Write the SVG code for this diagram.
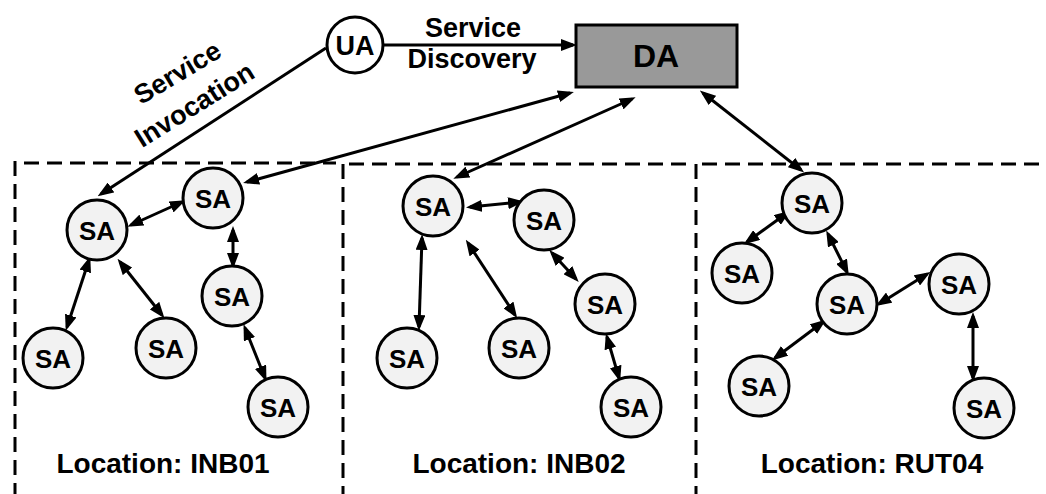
<svg xmlns="http://www.w3.org/2000/svg" width="1046" height="494" viewBox="0 0 1046 494">
  <style>
    .sa circle { fill: #f2f2f2; stroke: #000; stroke-width: 3; }
    .lbl { font-family: "Liberation Sans", Arial, sans-serif; font-weight: bold; fill: #000; text-anchor: middle; }
    .sa text { font-size: 26px; }
    .edge { stroke: #000; stroke-width: 3; fill: none; }
    .bi { marker-start: url(#head); marker-end: url(#head); }
    .one { marker-end: url(#head); }
    .zone { stroke: #000; stroke-width: 3; stroke-dasharray: 15 8; fill: none; }
  </style>
  <defs>
    <marker id="head" viewBox="0 0 16 12" markerUnits="userSpaceOnUse" markerWidth="16" markerHeight="12" refX="12" refY="6" orient="auto-start-reverse">
      <path d="M0,0 L16,6 L0,12 z" fill="#000"/>
    </marker>
  </defs>
  <rect width="1046" height="494" fill="#fff"/>

  <!-- location zones -->
  <g id="zones">
    <line class="zone" x1="24" y1="163" x2="336" y2="163"/>
    <line class="zone" x1="349" y1="164" x2="688" y2="164"/>
    <line class="zone" x1="702" y1="164" x2="1046" y2="164"/>
    <line class="zone" x1="15" y1="161" x2="15" y2="494"/>
    <line class="zone" x1="343" y1="164" x2="343" y2="494"/>
    <line class="zone" x1="696" y1="164" x2="696" y2="494"/>
    <text class="lbl" x="163" y="473" font-size="28">Location: INB01</text>
    <text class="lbl" x="519" y="473" font-size="28">Location: INB02</text>
    <text class="lbl" x="872" y="473" font-size="28">Location: RUT04</text>
  </g>

  <!-- connectors -->
  <g id="connectors">
    <line class="edge one" x1="384" y1="45" x2="573" y2="45"/>
    <line class="edge one" x1="326" y1="48" x2="101" y2="194"/>
    <line class="edge bi" x1="247" y1="182" x2="570" y2="93"/>
    <line class="edge bi" x1="457" y1="177" x2="632" y2="99"/>
    <line class="edge bi" x1="703" y1="93" x2="801" y2="170"/>

    <line class="edge bi" x1="131" y1="225" x2="182" y2="202"/>
    <line class="edge bi" x1="233" y1="230" x2="233" y2="265"/>
    <line class="edge bi" x1="89" y1="260" x2="67" y2="327"/>
    <line class="edge bi" x1="120" y1="262" x2="162" y2="315"/>
    <line class="edge bi" x1="245" y1="328" x2="265" y2="378"/>

    <line class="edge bi" x1="470" y1="207" x2="520" y2="202"/>
    <line class="edge bi" x1="422" y1="238" x2="419" y2="327"/>
    <line class="edge bi" x1="468" y1="243" x2="515" y2="315"/>
    <line class="edge bi" x1="552" y1="253" x2="576" y2="279"/>
    <line class="edge bi" x1="607" y1="337" x2="619" y2="378"/>

    <line class="edge bi" x1="787" y1="213" x2="747" y2="242"/>
    <line class="edge bi" x1="828" y1="234" x2="847" y2="272"/>
    <line class="edge bi" x1="879" y1="304" x2="927" y2="274"/>
    <line class="edge bi" x1="823" y1="322" x2="775" y2="358"/>
    <line class="edge bi" x1="973" y1="316" x2="973" y2="378"/>
  </g>

  <!-- edge labels -->
  <g id="labels">
    <text class="lbl" x="473" y="37" font-size="27">Service</text>
    <text class="lbl" x="472" y="68" font-size="27">Discovery</text>
    <text class="lbl" font-size="27" transform="translate(177,72) rotate(-31)" y="10">Service</text>
    <text class="lbl" font-size="27" transform="translate(194,104) rotate(-32)" y="10">Invocation</text>
  </g>

  <!-- agents -->
  <g id="ua" class="sa">
    <circle cx="355" cy="45" r="28" style="fill:#fff"/>
    <text class="lbl" x="355" y="55" style="font-size:27px">UA</text>
  </g>
  <g id="da">
    <rect x="576" y="25" width="161" height="62" fill="#999" stroke="#000" stroke-width="3"/>
    <text class="lbl" x="656" y="67" font-size="32">DA</text>
  </g>

  <g id="inb01-sa1" class="sa"><circle cx="97" cy="230" r="30"/><text class="lbl" x="97" y="240">SA</text></g>
  <g id="inb01-sa2" class="sa"><circle cx="213" cy="198" r="30"/><text class="lbl" x="213" y="208">SA</text></g>
  <g id="inb01-sa3" class="sa"><circle cx="232" cy="296" r="30"/><text class="lbl" x="232" y="306">SA</text></g>
  <g id="inb01-sa4" class="sa"><circle cx="53" cy="358" r="30"/><text class="lbl" x="53" y="368">SA</text></g>
  <g id="inb01-sa5" class="sa"><circle cx="166" cy="348" r="30"/><text class="lbl" x="166" y="358">SA</text></g>
  <g id="inb01-sa6" class="sa"><circle cx="278" cy="407" r="30"/><text class="lbl" x="278" y="417">SA</text></g>

  <g id="inb02-sa1" class="sa"><circle cx="433" cy="206" r="30"/><text class="lbl" x="433" y="216">SA</text></g>
  <g id="inb02-sa2" class="sa"><circle cx="544" cy="220" r="30"/><text class="lbl" x="544" y="230">SA</text></g>
  <g id="inb02-sa3" class="sa"><circle cx="605" cy="304" r="30"/><text class="lbl" x="605" y="314">SA</text></g>
  <g id="inb02-sa4" class="sa"><circle cx="407" cy="358" r="30"/><text class="lbl" x="407" y="368">SA</text></g>
  <g id="inb02-sa5" class="sa"><circle cx="519" cy="348" r="30"/><text class="lbl" x="519" y="358">SA</text></g>
  <g id="inb02-sa6" class="sa"><circle cx="631" cy="407" r="30"/><text class="lbl" x="631" y="417">SA</text></g>

  <g id="rut04-sa1" class="sa"><circle cx="812" cy="203" r="30"/><text class="lbl" x="812" y="213">SA</text></g>
  <g id="rut04-sa2" class="sa"><circle cx="742" cy="273" r="30"/><text class="lbl" x="742" y="283">SA</text></g>
  <g id="rut04-sa3" class="sa"><circle cx="847" cy="304" r="30"/><text class="lbl" x="847" y="314">SA</text></g>
  <g id="rut04-sa4" class="sa"><circle cx="959" cy="284" r="30"/><text class="lbl" x="959" y="294">SA</text></g>
  <g id="rut04-sa5" class="sa"><circle cx="759" cy="386" r="30"/><text class="lbl" x="759" y="396">SA</text></g>
  <g id="rut04-sa6" class="sa"><circle cx="984" cy="408" r="30"/><text class="lbl" x="984" y="418">SA</text></g>
</svg>
